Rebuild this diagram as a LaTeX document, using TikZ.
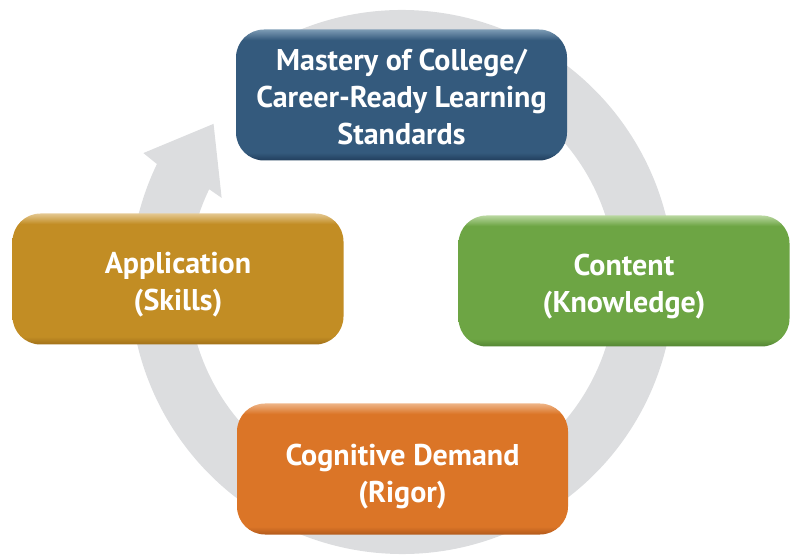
\documentclass[tikz,border=0pt]{standalone}
\usepackage{fontspec}
\setmainfont{PT Sans}
\definecolor{ringgray}{HTML}{DCDDDF}
\definecolor{bluebase}{RGB}{52,90,125}
\definecolor{bluelight}{RGB}{125,155,180}
\definecolor{bluedark}{RGB}{33,62,92}
\definecolor{goldbase}{RGB}{194,141,36}
\definecolor{goldlight}{RGB}{228,200,145}
\definecolor{golddark}{RGB}{160,112,25}
\definecolor{greenbase}{RGB}{109,165,68}
\definecolor{greenlight}{RGB}{185,215,160}
\definecolor{greendark}{RGB}{84,133,52}
\definecolor{orangebase}{RGB}{219,117,39}
\definecolor{orangelight}{RGB}{238,180,135}
\definecolor{orangedark}{RGB}{178,90,28}
\pgfdeclareverticalshading{bevelblue}{100bp}{color(0bp)=(bluedark); color(25bp)=(bluedark); color(28bp)=(bluebase); color(71bp)=(bluebase); color(75bp)=(bluelight); color(100bp)=(bluelight)}
\pgfdeclareverticalshading{bevelgold}{100bp}{color(0bp)=(golddark); color(25bp)=(golddark); color(28bp)=(goldbase); color(71bp)=(goldbase); color(75bp)=(goldlight); color(100bp)=(goldlight)}
\pgfdeclareverticalshading{bevelgreen}{100bp}{color(0bp)=(greendark); color(25bp)=(greendark); color(28bp)=(greenbase); color(71bp)=(greenbase); color(75bp)=(greenlight); color(100bp)=(greenlight)}
\pgfdeclareverticalshading{bevelorange}{100bp}{color(0bp)=(orangedark); color(25bp)=(orangedark); color(28bp)=(orangebase); color(71bp)=(orangebase); color(75bp)=(orangelight); color(100bp)=(orangelight)}
\tikzset{
  stagebox/.style={rectangle, rounded corners=28pt, minimum width=331pt, minimum height=131pt,
    inner sep=0pt, shade},
  stagetext/.style={inner sep=0pt, align=center, text=white,
    font=\bfseries\fontsize{30}{37}\selectfont},
}
\begin{document}
\begin{tikzpicture}[x=1pt,y=1pt]
\useasboundingbox (0,0) rectangle (797,554);
\begin{scope}[shift={(402,272)}]
\fill[ringgray] (125:272pt) arc[start angle=125, end angle=-205.7, radius=272pt]
  -- (153.5:289pt) coordinate (barbout) -- (140:246pt) coordinate (tip)
  -- (155:199pt) coordinate (barbin) -- (154.3:214pt)
  arc[start angle=-205.7, end angle=125, radius=214pt] -- cycle;
\end{scope}
\node[stagebox, shading=bevelblue] (masterybox) at (401.5,459) {};
\node[stagebox, shading=bevelgold] (applicationbox) at (178,275) {};
\node[stagebox, shading=bevelgreen] (contentbox) at (624,273) {};
\node[stagebox, shading=bevelorange] (cognitivebox) at (402.5,85) {};
\node[stagetext] (mastery) at ([yshift=-2pt]masterybox.center) {Mastery of College/\\Career-Ready Learning\\Standards};
\node[stagetext] (application) at ([yshift=-6pt]applicationbox.center) {Application\\(Skills)};
\node[stagetext] (content) at ([yshift=-6pt]contentbox.center) {Content\\(Knowledge)};
\node[stagetext] (cognitive) at ([yshift=-8pt]cognitivebox.center) {Cognitive Demand\\(Rigor)};
\end{tikzpicture}
\end{document}
